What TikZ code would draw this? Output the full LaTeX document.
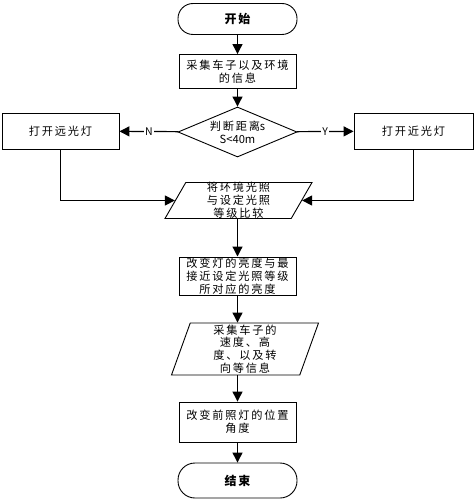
\documentclass[tikz,border=0pt]{standalone}
\usepackage{fontspec}
\setmainfont{Noto Sans CJK SC}[LetterSpace=16]
\newfontfamily\latinfont{Noto Sans CJK SC}
\usetikzlibrary{arrows.meta,shapes.geometric,positioning}
\tikzstyle{arrow} = [line width=1.2pt,-{Triangle[length=10pt,width=10pt]}]
\tikzstyle{startstop} = [draw, line width=0.9pt, rounded corners=15pt, minimum width=119pt, minimum height=31pt, font=\fontsize{12pt}{13pt}\selectfont\bfseries]
\tikzstyle{process} = [draw, line width=0.9pt, minimum width=117pt, align=center, inner sep=1pt]
\tikzstyle{decision} = [draw, diamond, line width=0.9pt, aspect=2.4, inner sep=0pt, minimum width=119pt, minimum height=50pt, align=center]
\tikzstyle{io} = [draw, trapezium, line width=0.9pt, trapezium stretches body=true, align=center, inner sep=0pt, minimum width=147pt]
\tikzstyle{branch} = [fill=white, inner sep=1pt, font=\latinfont\fontsize{10.5pt}{12pt}\selectfont]

\begin{document}
\begin{tikzpicture}[x=1pt, y=-1pt, every node/.style={font=\fontsize{11.2pt}{12.8pt}\selectfont}]
\useasboundingbox (0,0) rectangle (475,500);
% main column
\node[startstop] (start) at (237.5,19) {开始};
\node[process, minimum height=34pt] (collect) at (237.5,71.5) {采集车子以及环境\\的信息};
\node[decision] (judge) at (237.5,132) {判断距离{\latinfont s}\\{\latinfont S<40m}};
\node[process, minimum height=36pt] (far) at (60.5,131) {打开远光灯};
\node[process, minimum height=36pt, minimum width=119pt] (near) at (413.5,131) {打开近光灯};
\node[io, trapezium left angle=60, trapezium right angle=120, minimum height=35pt] (compare) at (238.5,200.5) {将环境光照\\与设定光照\\等级比较};
\node[process, minimum height=38pt] (adjust) at (237.5,276) {改变灯的亮度与最\\接近设定光照等级\\所对应的亮度};
\node[io, trapezium left angle=69, trapezium right angle=111, minimum height=52pt] (sense) at (245,349) {采集车子的\\速度、高\\度、以及转\\向等信息};
\node[process, minimum height=40pt] (turn) at (237.5,422) {改变前照灯的位置\\角度};
\node[startstop, minimum height=35pt, rounded corners=17pt] (stop) at (237.5,480.5) {结束};
% connectors
\draw[arrow] (start) -- (collect);
\draw[arrow] (collect) -- (judge);
\draw[arrow] (judge) -- node[branch] {N} (far);
\draw[arrow] (judge) -- node[branch] {Y} (near);
\draw[arrow] (far) |- (compare.west);
\draw[arrow] (near) |- (compare.east);
\draw[arrow] (adjust |- compare.south) -- (adjust);
\draw[arrow] (adjust) -- (adjust |- sense.north);
\draw[arrow] (adjust |- sense.south) -- (turn);
\draw[arrow] (turn) -- (stop);
\end{tikzpicture}
\end{document}
